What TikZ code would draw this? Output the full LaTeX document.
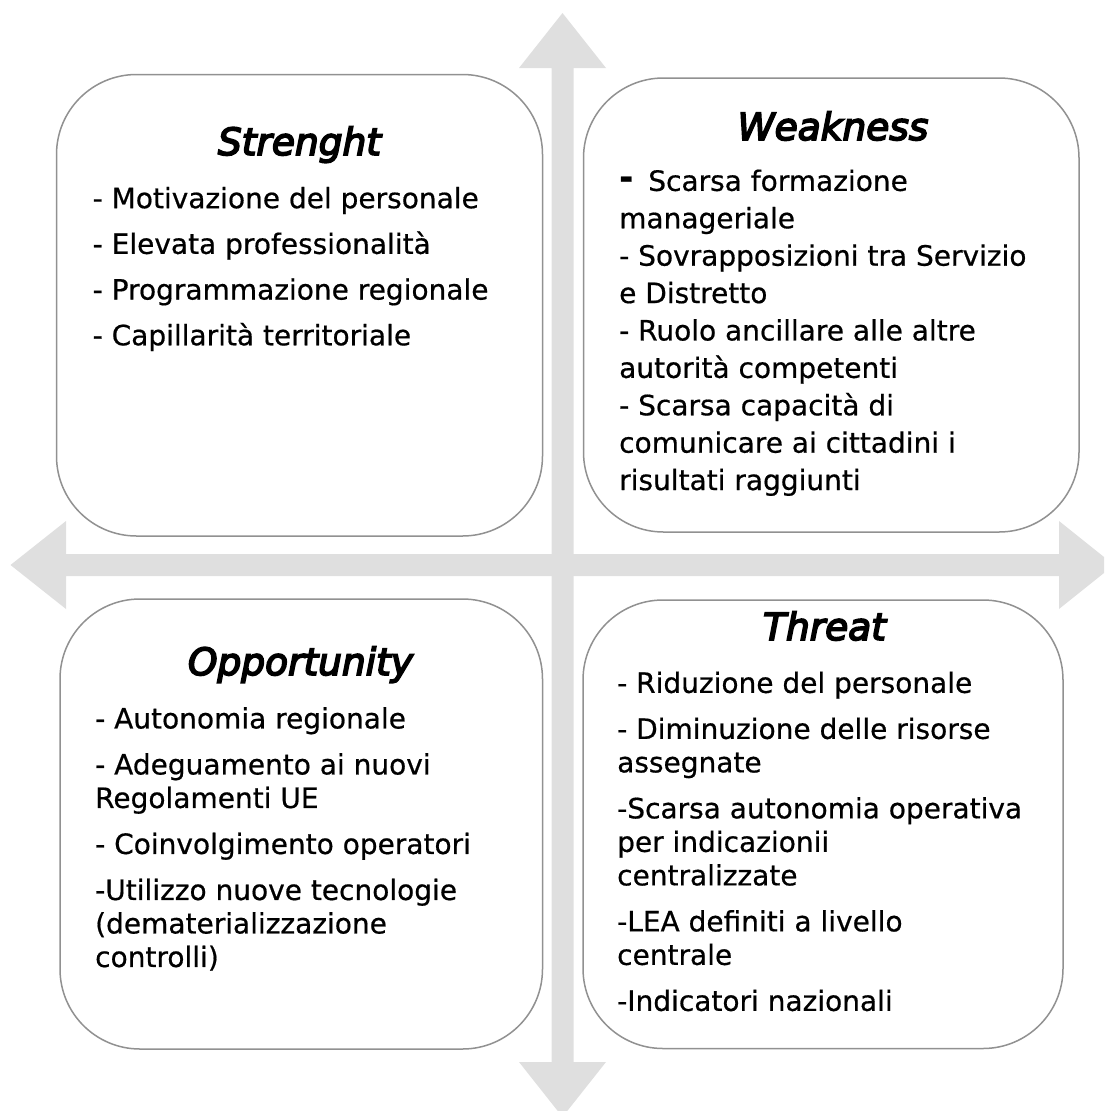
\documentclass[tikz,border=0pt]{standalone}
\usepackage{fontspec}
\setmainfont[FakeBold=0.6]{DejaVu Sans}
\newfontfamily\headfont[FakeBold=4.5]{DejaVu Sans}
\usetikzlibrary{positioning}
\definecolor{axisgray}{RGB}{223,223,223}
\definecolor{framegray}{RGB}{145,145,145}
\tikzset{
  quadrant/.style = {shape=rectangle, rounded corners=80pt,
                     draw=framegray, line width=1.5pt, fill=white},
  heading/.style  = {anchor=base, inner sep=0pt,
                     font={\headfont\fontsize{37.5}{40}\selectfont\itshape}},
  items/.style    = {anchor=north west, align=left, inner sep=0pt,
                     font=\fontsize{28}{33.5}\selectfont}
}
\newcommand{\gap}[0]{\\[12.5pt]}

\begin{document}
\begin{tikzpicture}[x=1pt,y=-1pt]
  \useasboundingbox (0,0) rectangle (1104,1111);
  \clip (0,0) rectangle (1104,1111);
  % the two axes
  \fill[axisgray] (551.5,68) -- (519,68) -- (562.5,13) -- (606,68) -- (573.5,68)
    -- (573.5,1062) -- (606,1062) -- (562.5,1117) -- (519,1062) -- (551.5,1062) -- cycle;
  \fill[axisgray] (66,554) -- (66,521) -- (10.5,565) -- (66,609) -- (66,576)
    -- (1059,576) -- (1059,609) -- (1114,565) -- (1059,521) -- (1059,554) -- cycle;
  % quadrants
  \node [quadrant, minimum width=486pt, minimum height=461.5pt] (strength) at (299.5,305.25) {};
  \node [quadrant, minimum width=495.5pt, minimum height=454pt] (weakness) at (831.25,305) {};
  \node [quadrant, minimum width=482.5pt, minimum height=450pt] (opportunity) at (301.25,824) {};
  \node [quadrant, minimum width=480pt, minimum height=448.5pt] (threat) at (823,824.25) {};
  % titles
  \node [heading] (strengthtitle) at (299.5,155) {Strenght};
  \node [heading] (weaknesstitle) at (833,140) {Weakness};
  \node [heading] (opportunitytitle) at (300.5,675) {Opportunity};
  \node [heading] (threattitle) at (824.5,640) {Threat};
  % lists
  \node [items] (strengthlist) at (92.5,186.7)
    {- Motivazione del personale\\[12.2pt] - Elevata professionalità\\[12.2pt]
     - Programmazione regionale\\[12.2pt] - Capillarità territoriale};
  \node [items, font=\fontsize{28}{37.4}\selectfont] (weaknesslist) at (619,169.4)
    {\raisebox{2pt}{\fontsize{34}{34}\selectfont\bfseries -}\hspace{15pt}Scarsa formazione\\
     manageriale\\ - Sovrapposizioni tra Servizio\\ e Distretto\\
     - Ruolo ancillare alle altre\\ autorità competenti\\
     - Scarsa capacità di\\ comunicare ai cittadini i\\ risultati raggiunti};
  \node [items] (opportunitylist) at (95,707)
    {- Autonomia regionale\gap - Adeguamento ai nuovi\\ Regolamenti UE\gap
     - Coinvolgimento operatori\gap -Utilizzo nuove tecnologie\\
     (dematerializzazione\\ controlli)};
  \node [items] (threatlist) at (617,671.4)
    {- Riduzione del personale\gap - Diminuzione delle risorse\\ assegnate\gap
     -Scarsa autonomia operativa\\ per indicazionii\\ centralizzate\gap
     -LEA definiti a livello\\ centrale\gap -Indicatori nazionali};
\end{tikzpicture}
\end{document}
